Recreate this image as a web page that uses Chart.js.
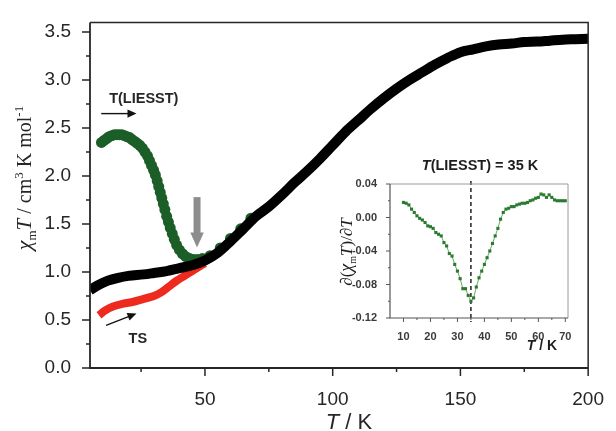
<!DOCTYPE html>
<html>
<head>
<meta charset="utf-8">
<script src="https://cdn.jsdelivr.net/npm/chart.js@4.4.1/dist/chart.umd.min.js"></script>
<style>
  html, body { margin: 0; padding: 0; background: #fff; }
  #wrap { position: relative; width: 616px; height: 431px; }
  #main { position: absolute; left: 0; top: 0; }
  #inset { position: absolute; left: 330px; top: 150px; }
</style>
</head>
<body>
<div id="wrap">
  <canvas id="main" width="616" height="431"></canvas>
  <canvas id="inset" width="256" height="210"></canvas>
</div>
<script>
// Main plot: chi_m*T vs T (cooling/heating in black, TS in red, T(LIESST) in green)
const blackT = [5, 8, 12, 16, 20, 26, 30, 35, 40, 45, 50, 55, 60, 65, 70, 75, 80, 85, 90, 95, 100, 105, 110, 115, 120, 125, 130, 135, 140, 145, 150, 155, 160, 165, 170, 175, 180, 185, 190, 195, 200];
const blackChi = [0.81, 0.86, 0.91, 0.94, 0.96, 0.975, 0.99, 1.01, 1.04, 1.07, 1.12, 1.20, 1.32, 1.45, 1.58, 1.68, 1.80, 1.93, 2.05, 2.18, 2.32, 2.46, 2.58, 2.70, 2.81, 2.91, 3.00, 3.08, 3.16, 3.23, 3.29, 3.32, 3.35, 3.37, 3.38, 3.395, 3.40, 3.41, 3.42, 3.425, 3.43];

const tsT = [8.5, 11, 14, 18, 22, 26, 30, 33, 36, 39, 42, 45, 48, 50];
const tsChi = [0.55, 0.60, 0.64, 0.67, 0.69, 0.72, 0.75, 0.79, 0.85, 0.91, 0.96, 1.01, 1.06, 1.09];

const liesstT = [9.5, 10.5, 11.5, 12.5, 13.5, 14.5, 15.5, 16.5, 17.5, 18.5, 19.5, 20.5, 21.5, 22.5, 23.5, 24.5, 25.5, 26.5, 27.5, 28.3, 29.1, 29.9, 30.6, 31.3, 31.9, 32.5, 33.1, 33.7, 34.3, 35.0, 35.7, 36.4, 37.2, 38.0, 38.9, 40.0, 41.2, 42.5, 44, 45.5, 47, 49, 52, 56, 60, 64, 68];
const liesstChi = [2.35, 2.37, 2.39, 2.41, 2.42, 2.43, 2.43, 2.43, 2.43, 2.42, 2.41, 2.40, 2.38, 2.36, 2.34, 2.32, 2.29, 2.25, 2.21, 2.16, 2.11, 2.06, 2.01, 1.95, 1.89, 1.83, 1.77, 1.71, 1.65, 1.58, 1.52, 1.46, 1.40, 1.34, 1.28, 1.23, 1.19, 1.16, 1.14, 1.13, 1.13, 1.14, 1.17, 1.25, 1.35, 1.45, 1.56];

const mainXTicks = [25, 50, 75, 100, 125, 150, 175, 200];
const mainYTicks = [0, 0.25, 0.5, 0.75, 1, 1.25, 1.5, 1.75, 2, 2.25, 2.5, 2.75, 3, 3.25, 3.5];

// Inset: d(chi_m T)/dT vs T
const LIESST_T = 35;
const insetT = [10, 11, 12, 13, 14, 15, 16, 17, 18, 19, 20, 21, 22, 23, 24, 25, 26, 27, 28, 29, 30, 31, 32, 33, 34, 35, 36, 37, 38, 39, 40, 41, 42, 43, 44, 45, 46, 47, 48, 49, 50, 51, 52, 53, 54, 55, 56, 57, 58, 59, 60, 61, 62, 63, 64, 65, 66, 67, 68, 69, 70];
const insetD = [0.018, 0.017, 0.015, 0.010, 0.006, 0.002, -0.001, -0.003, -0.006, -0.010, -0.011, -0.013, -0.018, -0.020, -0.022, -0.030, -0.034, -0.043, -0.046, -0.056, -0.064, -0.073, -0.085, -0.085, -0.093, -0.100, -0.096, -0.083, -0.072, -0.064, -0.056, -0.048, -0.040, -0.031, -0.022, -0.013, -0.002, 0.006, 0.010, 0.011, 0.013, 0.013, 0.015, 0.016, 0.017, 0.017, 0.018, 0.020, 0.021, 0.023, 0.024, 0.028, 0.027, 0.024, 0.027, 0.024, 0.021, 0.020, 0.020, 0.020, 0.020];
const insetXTicks = [10, 15, 20, 25, 30, 35, 40, 45, 50, 55, 60, 65, 70];
const insetYTicks = [-0.12, -0.10, -0.08, -0.06, -0.04, -0.02, 0, 0.02, 0.04];

const SANS = '"Liberation Sans", Arial, sans-serif';
const SERIF = '"Liberation Serif", "Times New Roman", serif';
const INK = '#262626';

const pts = (xs, ys) => xs.map((x, i) => ({ x: x, y: ys[i] }));
const near = (a, b) => Math.abs(a - b) < 1e-9;

// Draw a run of differently styled text pieces, centred on (x, y)
function drawRich(ctx, parts, x, y) {
  let total = 0;
  parts.forEach(p => { ctx.font = p.font; p.w = ctx.measureText(p.t).width; total += p.w; });
  let cx = x - total / 2;
  ctx.textBaseline = 'alphabetic';
  ctx.textAlign = 'left';
  parts.forEach(p => {
    ctx.font = p.font;
    ctx.fillText(p.t, cx, y + (p.dy || 0));
    cx += p.w;
  });
}

function arrow(ctx, x1, y1, x2, y2, head, width, color) {
  const a = Math.atan2(y2 - y1, x2 - x1);
  ctx.save();
  ctx.strokeStyle = color;
  ctx.fillStyle = color;
  ctx.lineWidth = width;
  ctx.beginPath();
  ctx.moveTo(x1, y1);
  ctx.lineTo(x2 - Math.cos(a) * head * 0.8, y2 - Math.sin(a) * head * 0.8);
  ctx.stroke();
  ctx.beginPath();
  ctx.moveTo(x2, y2);
  ctx.lineTo(x2 - head * Math.cos(a) + head * 0.45 * Math.sin(a), y2 - head * Math.sin(a) - head * 0.45 * Math.cos(a));
  ctx.lineTo(x2 - head * Math.cos(a) - head * 0.45 * Math.sin(a), y2 - head * Math.sin(a) + head * 0.45 * Math.cos(a));
  ctx.closePath();
  ctx.fill();
  ctx.restore();
}

// Frame plus outward major/minor tick marks on the left and bottom axes
function frameAndTicks(chart, opt) {
  const ctx = chart.ctx;
  const a = chart.chartArea;
  const xs = chart.scales.x, ys = chart.scales.y;
  ctx.save();
  ctx.strokeStyle = opt.frameColor;
  ctx.lineWidth = opt.frameWidth;
  ctx.beginPath();
  ctx.moveTo(a.left, a.top); ctx.lineTo(a.right, a.top); ctx.lineTo(a.right, a.bottom);
  ctx.stroke();
  ctx.strokeStyle = opt.axisColor;
  ctx.lineWidth = opt.axisWidth;
  ctx.beginPath();
  ctx.moveTo(a.left, a.top); ctx.lineTo(a.left, a.bottom); ctx.lineTo(a.right, a.bottom);
  ctx.stroke();
  ctx.lineWidth = opt.tickWidth;
  ctx.beginPath();
  xs.ticks.forEach(t => {
    const px = xs.getPixelForValue(t.value);
    const len = opt.isMajorX(t.value) ? opt.major : opt.minor;
    ctx.moveTo(px, a.bottom); ctx.lineTo(px, a.bottom + len);
  });
  ys.ticks.forEach(t => {
    const py = ys.getPixelForValue(t.value);
    const len = opt.isMajorY(t.value) ? opt.major : opt.minor;
    ctx.moveTo(a.left, py); ctx.lineTo(a.left - len, py);
  });
  ctx.stroke();
  ctx.restore();
}

const mainDecor = {
  id: 'mainDecor',
  afterDraw(chart) {
    const ctx = chart.ctx;
    const xs = chart.scales.x, ys = chart.scales.y;
    frameAndTicks(chart, {
      frameColor: INK, frameWidth: 1.5, axisColor: INK, axisWidth: 1.8, tickWidth: 1.5,
      major: 8, minor: 4,
      isMajorX: v => near(v % 50, 0), isMajorY: v => near((v * 2) % 1, 0)
    });

    ctx.save();
    ctx.fillStyle = INK;
    // x axis title
    drawRich(ctx, [
      { t: 'T', font: 'italic 22px ' + SANS },
      { t: ' / K', font: '22px ' + SANS }
    ], 349, 429);

    // y axis title
    ctx.save();
    ctx.translate(31, 178);
    ctx.rotate(-Math.PI / 2);
    drawRich(ctx, [
      { t: 'χ', font: 'italic 22px ' + SERIF },
      { t: 'm', font: '13px ' + SERIF, dy: 5 },
      { t: 'T', font: 'italic 21px ' + SERIF },
      { t: ' / cm', font: '20px ' + SERIF },
      { t: '3', font: '13px ' + SERIF, dy: -8 },
      { t: ' K mol', font: '20px ' + SERIF },
      { t: '-1', font: '13px ' + SERIF, dy: -8 }
    ], 0, 0);
    ctx.restore();

    // series annotations
    const X = v => xs.getPixelForValue(v), Y = v => ys.getPixelForValue(v);
    ctx.font = 'bold 14.5px ' + SANS;
    ctx.textAlign = 'left';
    ctx.textBaseline = 'middle';
    ctx.fillText('T(LIESST)', X(12.5), Y(2.80));
    arrow(ctx, X(9.4), Y(2.65), X(23.2), Y(2.65), 9, 1.4, '#111');
    ctx.fillText('TS', X(20.1), Y(0.30));
    arrow(ctx, X(11.3), Y(0.445), X(23.2), Y(0.567), 9, 1.4, '#111');

    // grey arrow marking where the LIESST curve rejoins the thermal one
    arrow(ctx, X(46.9), Y(1.78), X(46.9), Y(1.255), 15, 7, '#8d8d8d');
    ctx.restore();
  }
};

new Chart(document.getElementById('main'), {
  type: 'line',
  data: {
    datasets: [
      {
        data: pts(blackT, blackChi),
        borderColor: '#000',
        borderWidth: 10,
        pointRadius: 0,
        cubicInterpolationMode: 'monotone',
        order: 0
      },
      {
        data: pts(tsT, tsChi),
        borderColor: '#ee2a1f',
        borderWidth: 8,
        pointRadius: 0,
        cubicInterpolationMode: 'monotone',
        order: 2
      },
      {
        data: pts(liesstT, liesstChi),
        showLine: false,
        pointRadius: 5.5,
        pointBackgroundColor: '#1c5e28',
        pointBorderWidth: 0,
        order: 1
      }
    ]
  },
  options: {
    responsive: false,
    animation: false,
    layout: { padding: { top: 12, right: 18, left: 0, bottom: 0 } },
    plugins: { legend: { display: false }, tooltip: { enabled: false } },
    scales: {
      x: {
        type: 'linear',
        min: 5,
        max: 200,
        afterBuildTicks: s => { s.ticks = mainXTicks.map(v => ({ value: v })); },
        afterFit: s => { s.height = 63; },
        grid: { display: false },
        border: { display: false },
        ticks: {
          autoSkip: false,
          maxRotation: 0,
          padding: 12,
          color: INK,
          font: { family: SANS, size: 19 },
          callback: v => (near(v % 50, 0) ? String(v) : '')
        }
      },
      y: {
        type: 'linear',
        min: 0,
        max: 3.6,
        afterBuildTicks: s => { s.ticks = mainYTicks.map(v => ({ value: v })); },
        afterFit: s => { s.width = 90; },
        grid: { display: false },
        border: { display: false },
        ticks: {
          autoSkip: false,
          padding: 11,
          color: INK,
          font: { family: SANS, size: 19 },
          callback: v => (near((v * 2) % 1, 0) ? v.toFixed(1) : '')
        }
      }
    }
  },
  plugins: [mainDecor]
});

const insetDecor = {
  id: 'insetDecor',
  beforeDatasetsDraw(chart) {
    // dashed marker at T(LIESST)
    const ctx = chart.ctx;
    const a = chart.chartArea;
    const px = chart.scales.x.getPixelForValue(LIESST_T);
    ctx.save();
    ctx.strokeStyle = '#222';
    ctx.lineWidth = 1.5;
    ctx.setLineDash([4, 3]);
    ctx.beginPath();
    ctx.moveTo(px, a.top - 3);
    ctx.lineTo(px, a.bottom + 4);
    ctx.stroke();
    ctx.restore();
  },
  afterDraw(chart) {
    const ctx = chart.ctx;
    frameAndTicks(chart, {
      frameColor: '#9a9a9a', frameWidth: 1, axisColor: '#555', axisWidth: 1.2, tickWidth: 1,
      major: 4, minor: 2,
      isMajorX: v => near(v % 10, 0), isMajorY: v => near(Math.abs(v * 100) % 4, 0)
    });
    ctx.save();
    ctx.fillStyle = '#1e1e1e';
    drawRich(ctx, [
      { t: 'T', font: 'italic bold 14.5px ' + SANS },
      { t: '(LIESST) = ' + LIESST_T + ' K', font: 'bold 14.5px ' + SANS }
    ], 150, 20);
    drawRich(ctx, [
      { t: 'T', font: 'italic bold 14px ' + SANS },
      { t: ' / K', font: 'bold 14px ' + SANS }
    ], 212, 200);
    ctx.save();
    ctx.translate(22, 102);
    ctx.rotate(-Math.PI / 2);
    drawRich(ctx, [
      { t: '∂(', font: '17px ' + SERIF },
      { t: 'χ', font: 'italic 18px ' + SERIF },
      { t: 'm', font: '10px ' + SERIF, dy: 4 },
      { t: 'T', font: 'italic 17px ' + SERIF },
      { t: ')/∂', font: '17px ' + SERIF },
      { t: 'T', font: 'italic 17px ' + SERIF }
    ], 0, 0);
    ctx.restore();
    ctx.restore();
  }
};

new Chart(document.getElementById('inset'), {
  type: 'line',
  data: {
    datasets: [{
      data: pts(insetT, insetD),
      borderColor: '#6aaa62',
      borderWidth: 1,
      pointStyle: 'rect',
      pointRadius: 2.2,
      pointBackgroundColor: '#2a7a30',
      pointBorderWidth: 0,
      tension: 0
    }]
  },
  options: {
    responsive: false,
    animation: false,
    layout: { padding: { top: 34, right: 18, left: 0, bottom: 0 } },
    plugins: { legend: { display: false }, tooltip: { enabled: false } },
    scales: {
      x: {
        type: 'linear',
        min: 5,
        max: 71,
        afterBuildTicks: s => { s.ticks = insetXTicks.map(v => ({ value: v })); },
        afterFit: s => { s.height = 42; },
        grid: { display: false },
        border: { display: false },
        ticks: {
          autoSkip: false,
          maxRotation: 0,
          padding: 4,
          color: '#3a3a3a',
          font: { family: SANS, size: 11, weight: 'bold' },
          callback: v => (near(v % 10, 0) ? String(v) : '')
        }
      },
      y: {
        type: 'linear',
        min: -0.12,
        max: 0.04,
        afterBuildTicks: s => { s.ticks = insetYTicks.map(v => ({ value: v })); },
        afterFit: s => { s.width = 60; },
        grid: { display: false },
        border: { display: false },
        ticks: {
          autoSkip: false,
          padding: 5,
          color: '#3a3a3a',
          font: { family: SANS, size: 11, weight: 'bold' },
          callback: v => (near(Math.abs(v * 100) % 4, 0) ? v.toFixed(2) : '')
        }
      }
    }
  },
  plugins: [insetDecor]
});
</script>
</body>
</html>
